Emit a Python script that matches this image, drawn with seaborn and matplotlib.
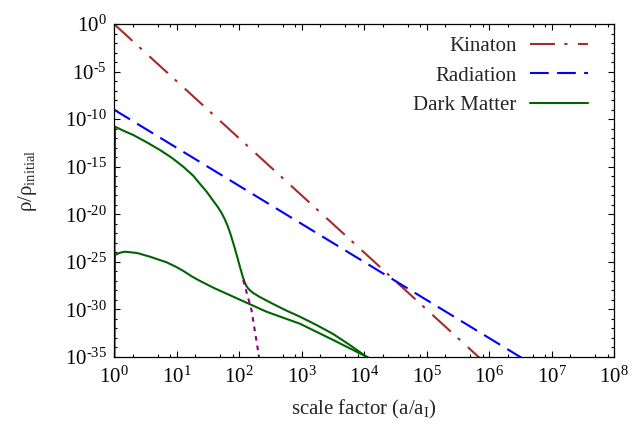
import numpy as np
import pandas as pd
import matplotlib
matplotlib.use('Agg')
import matplotlib.pyplot as plt
import matplotlib.ticker as mticker
import seaborn as sns

#****************************************************************************
# data (log10 values)
#****************************************************************************

kin_loga = [0.0, 6.0]
kin_logrho = [0.0, -36.0]

rad_loga = [0.0, 7.0]
rad_logrho = [-9.0, -37.0]

# dark matter, upper branch
dm1_loga = [0.0, 0.016, 0.149, 0.309, 0.522, 0.735, 0.922, 1.108, 1.268,
            1.375, 1.482, 1.562, 1.668, 1.72, 1.775, 1.82, 1.855, 1.907, 1.962,
            2.014, 2.057, 2.094, 2.12, 2.147, 2.19, 2.227, 2.334, 2.547, 2.761,
            2.974, 3.241, 3.506, 3.773, 4.04, 4.2]
dm1_logrho = [-40.0, -10.79, -11.21, -11.67, -12.43, -13.24, -14.05, -15.0, -15.95,
              -16.8, -17.63, -18.35, -19.3, -19.85, -20.55, -21.25, -21.9, -23.0, -24.25,
              -25.5, -26.5, -27.2, -27.55, -27.8, -28.08, -28.27, -28.7, -29.43, -30.13,
              -30.76, -31.64, -32.58, -33.74, -34.97, -35.7]

# dark matter, lower branch
dm2_loga = [0.0, 0.016, 0.096, 0.176, 0.37, 0.576, 0.843, 1.0, 1.108, 1.25,
            1.375, 1.6, 1.907, 2.44, 2.974, 3.506, 4.04, 4.2]
dm2_logrho = [-40.0, -24.28, -24.04, -23.93, -24.07, -24.46, -25.05, -25.55, -25.95, -26.55,
              -27.0, -27.75, -28.66, -30.24, -31.5, -33.21, -34.97, -35.5]

# dotted continuation of the steep drop
dot_loga = [2.067, 2.20, 2.32, 2.36]
dot_logrho = [-26.91, -30.06, -34.97, -36.5]

xtick_dec = list(range(0, 9))
ytick_dec = [0, -5, -10, -15, -20, -25, -30, -35]

#****************************************************************************

def frame(loga, logrho):
    return pd.DataFrame({'a': np.power(10.0, loga), 'rho': np.power(10.0, logrho)})


def pow_label(d):
    if d < 0:
        return r'$\mathregular{10^{\text{-}%d}}$' % (-d)
    return r'$\mathregular{10^{%d}}$' % d


def main():
    sns.set_theme(style='ticks')
    plt.rcParams['font.family'] = ['Liberation Serif', 'DejaVu Serif']
    plt.rcParams['mathtext.fontset'] = 'custom'
    plt.rcParams['mathtext.rm'] = 'Liberation Serif'
    plt.rcParams['mathtext.it'] = 'Liberation Serif:italic'
    plt.rcParams['font.size'] = 15

    fig = plt.figure(figsize=(6.41, 4.29), dpi=100)
    ax = fig.add_axes([114/641, 1 - 357/429, 500/641, 333/429])

    lw = 1.5
    sns.lineplot(data=frame(kin_loga, kin_logrho), x='a', y='rho', ax=ax,
                 color='#a52a2a', lw=lw, label='Kinaton', estimator=None, sort=False)
    sns.lineplot(data=frame(rad_loga, rad_logrho), x='a', y='rho', ax=ax,
                 color='#0000ff', lw=lw, label='Radiation', estimator=None, sort=False)
    sns.lineplot(data=frame(dm1_loga, dm1_logrho), x='a', y='rho', ax=ax,
                 color='#006400', lw=lw, label='Dark Matter', estimator=None, sort=False)
    sns.lineplot(data=frame(dm2_loga, dm2_logrho), x='a', y='rho', ax=ax,
                 color='#006400', lw=lw, estimator=None, sort=False)
    sns.lineplot(data=frame(dot_loga, dot_logrho), x='a', y='rho', ax=ax,
                 color='#8b008b', lw=lw, estimator=None, sort=False)

    lines = ax.get_lines()
    lines[0].set_dashes([12.0, 4.5, 1.5, 5.0])
    lines[1].set_dashes([9.0, 4.0])
    lines[4].set_dashes([2.2, 2.4])
    for ln in lines:
        ln.set_solid_joinstyle('round')

    ax.set_xscale('log')
    ax.set_yscale('log')
    ax.set_xlim(1, 1e8)
    ax.set_ylim(1e-35, 1)

    ax.xaxis.set_major_locator(mticker.FixedLocator([10.0**d for d in xtick_dec]))
    ax.xaxis.set_minor_locator(mticker.LogLocator(base=10, subs=(2, 5, 8), numticks=50))
    ax.xaxis.set_major_formatter(mticker.FixedFormatter([pow_label(d) for d in xtick_dec]))
    ax.xaxis.set_minor_formatter(mticker.NullFormatter())

    ax.yaxis.set_major_locator(mticker.FixedLocator([10.0**d for d in ytick_dec]))
    ax.yaxis.set_minor_locator(mticker.FixedLocator(
        [10.0**d for d in range(-35, 1) if d % 5 != 0]))
    ax.yaxis.set_major_formatter(mticker.FixedFormatter([pow_label(d) for d in ytick_dec]))
    ax.yaxis.set_minor_formatter(mticker.NullFormatter())

    ax.tick_params(which='both', direction='in', top=True, right=True,
                   labelsize=15, colors='black', width=0.8)
    ax.tick_params(which='major', length=4.5)
    ax.tick_params(axis='x', which='major', pad=7)
    ax.tick_params(axis='y', which='major', pad=5)
    ax.tick_params(which='minor', length=2.3)
    for sp in ax.spines.values():
        sp.set_linewidth(0.9)
        sp.set_color('black')

    ax.set_xlabel(r'scale factor (a/a$_\mathregular{I}$)', fontsize=15, labelpad=7)
    ax.set_ylabel(r'ρ/ρ$_\mathregular{initial}$', fontsize=15)
    ax.yaxis.set_label_coords(-0.15, 0.53)

    ax.legend(loc='upper right', bbox_to_anchor=(0.9486, 0.963), frameon=False,
              markerfirst=False, fontsize=15, handlelength=2.8, handletextpad=0.64,
              labelspacing=0.49, borderaxespad=0.0, borderpad=0.0)

    fig.savefig('out.png', dpi=100)


if (__name__ == "__main__"):
    main()
